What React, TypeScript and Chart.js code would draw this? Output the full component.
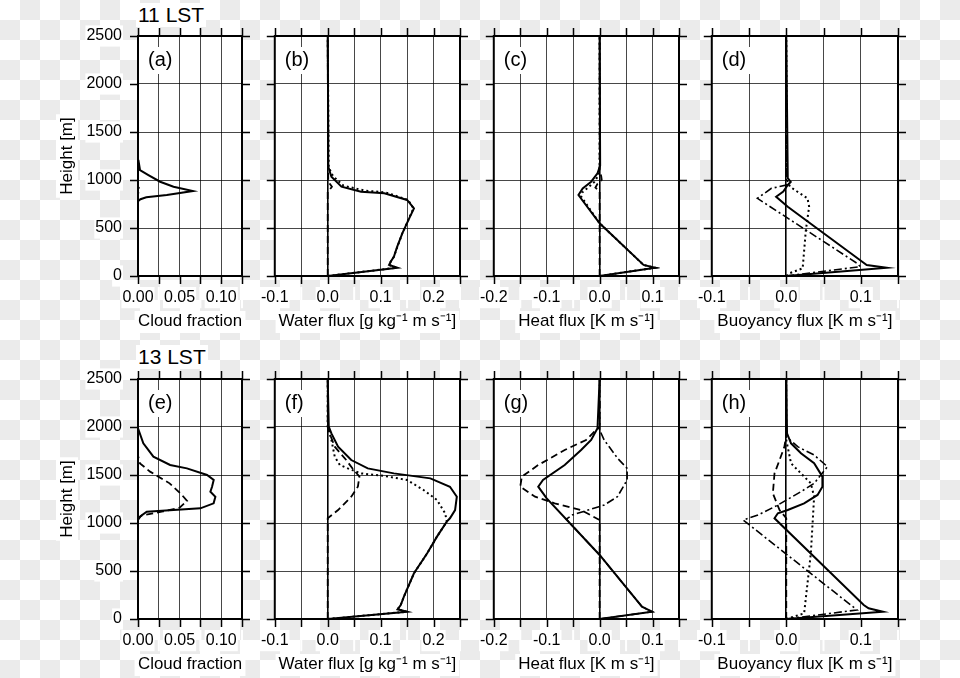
import React, { useEffect, useRef } from 'react';
import { Chart, registerables } from 'chart.js';
Chart.register(...registerables);

const FONT = '"Liberation Sans", Arial, Helvetica, sans-serif';

// ---- Profile data: heights (m) and values ----
// (a) 11 LST cloud fraction
const aSolidH = [0, 780, 800, 820, 844, 885, 930, 982, 1052, 1104, 1200, 1250, 2500];
const aSolidX = [0, 0, 0.003, 0.01, 0.0346, 0.066, 0.0427, 0.0266, 0.0125, 0.0024, 0.0006, 0, 0];
const aDashH = [0, 860, 885, 905, 930, 2500];
const aDashX = [0, 0, 0.002, 0.002, 0, 0];
// (b) 11 LST water flux
const bSolidH = [0, 86, 115, 149, 201, 300, 445, 600, 705, 792, 861, 878, 930, 1034, 1122, 1500, 2500];
const bSolidX = [0, 0.132, 0.116, 0.119, 0.125, 0.131, 0.141, 0.154, 0.163, 0.15, 0.107, 0.063, 0.026, 0.007, 0.002, 0.001, 0];
const bDotH = [0, 86, 115, 149, 201, 445, 705, 792, 870, 890, 940, 1040, 1130, 2500];
const bDotX = [0, 0.13, 0.116, 0.119, 0.125, 0.141, 0.162, 0.152, 0.11, 0.07, 0.03, 0.01, 0.002, 0];
const bDashH = [0, 880, 900, 930, 960, 1000, 2500];
const bDashX = [0, 0, 0.004, 0.008, 0.004, 0.001, 0];
// (c) 11 LST heat flux
const cSolidH = [0, 86, 115, 549, 844, 913, 982, 1069, 1150, 2500];
const cSolidX = [0, 0.105, 0.083, 0, -0.04, -0.032, -0.016, -0.004, 0.001, 0];
const cDotH = [0, 86, 115, 549, 830, 870, 920, 980, 1050, 1150, 2500];
const cDotX = [0, 0.105, 0.083, 0, -0.035, -0.033, -0.022, -0.01, -0.002, 0, 0];
const cDashH = [0, 880, 920, 960, 1000, 1040, 1100, 2500];
const cDashX = [0, 0, -0.008, -0.004, 0.004, 0.003, 0, 0];
// (d) 11 LST buoyancy flux
const dSolidH = [0, 86, 115, 149, 722, 826, 880, 948, 980, 1020, 2500];
const dSolidX = [0, 0.135, 0.108, 0.102, 0.002, -0.0136, -0.004, 0.002, 0.006, 0.002, 0];
const dDashDotH = [0, 97, 132, 809, 913, 948, 2500];
const dDashDotX = [0, 0.0995, 0.095, -0.0388, -0.02, 0, 0];
const dDotH = [0, 30, 80, 479, 722, 809, 878, 930, 1000, 2500];
const dDotX = [0, 0.005, 0.022, 0.0263, 0.0307, 0.0285, 0.015, 0.005, 0.001, 0];
// (e) 13 LST cloud fraction
const eSolidH = [0, 1031, 1070, 1118, 1135, 1153, 1205, 1274, 1326, 1378, 1448, 1500, 1569, 1604, 1691, 1830, 1986, 2500];
const eSolidX = [0, 0, 0.003, 0.0105, 0.0427, 0.0749, 0.0909, 0.093, 0.087, 0.089, 0.091, 0.083, 0.0588, 0.0386, 0.0185, 0.0064, 0, 0];
const eDashH = [0, 1050, 1080, 1120, 1160, 1230, 1300, 1413, 1535, 1621, 1700, 2500];
const eDashX = [0, 0, 0.005, 0.03, 0.05, 0.059, 0.052, 0.038, 0.0145, 0.0024, 0, 0];
// (f) 13 LST water flux
const fSolidH = [0, 76, 101, 146, 233, 476, 684, 858, 1014, 1049, 1135, 1274, 1378, 1465, 1517, 1569, 1656, 1795, 1934, 2004, 2500];
const fSolidX = [0, 0.15, 0.132, 0.138, 0.144, 0.163, 0.188, 0.2065, 0.225, 0.231, 0.2407, 0.244, 0.231, 0.194, 0.125, 0.0757, 0.0445, 0.0196, 0.007, 0.002, 0];
const fDotH = [0, 76, 101, 146, 233, 476, 684, 858, 1014, 1101, 1240, 1344, 1448, 1490, 1517, 1569, 1604, 1691, 1865, 2004, 2500];
const fDotX = [0, 0.15, 0.132, 0.138, 0.144, 0.163, 0.188, 0.2065, 0.225, 0.222, 0.2065, 0.181, 0.15, 0.107, 0.063, 0.038, 0.023, 0.0133, 0.007, 0, 0];
const fDashH = [0, 1049, 1135, 1274, 1378, 1483, 1560, 1656, 1795, 1900, 2004, 2500];
const fDashX = [0, 0, 0.0196, 0.0445, 0.057, 0.06, 0.048, 0.035, 0.0133, 0.006, 0, 0];
// (g) 13 LST heat flux
const gSolidH = [0, 76, 128, 667, 1257, 1378, 1448, 1604, 1760, 1865, 1986, 2500];
const gSolidX = [0, 0.099, 0.08, 0, -0.1, -0.116, -0.107, -0.066, -0.035, -0.016, -0.004, 0];
const gDashH = [0, 1031, 1135, 1205, 1274, 1378, 1483, 1604, 1760, 1865, 1951, 2000, 2500];
const gDashX = [0, 0, -0.035, -0.085, -0.122, -0.15, -0.147, -0.116, -0.066, -0.0256, -0.01, 0, 0];
const gDashDotH = [0, 76, 128, 667, 1040, 1083, 1135, 1187, 1274, 1448, 1569, 1674, 1865, 1969, 2500];
const gDashDotX = [0, 0.099, 0.08, 0, -0.063, -0.052, -0.022, 0.0086, 0.0336, 0.052, 0.052, 0.034, 0.0086, 0, 0];
// (h) 13 LST buoyancy flux
const hSolidH = [0, 76, 111, 146, 1049, 1101, 1135, 1205, 1292, 1378, 1483, 1622, 1726, 1830, 1934, 2500];
const hSolidX = [0, 0.1296, 0.1105, 0.104, -0.0158, -0.0113, 0.002, 0.024, 0.042, 0.0485, 0.0485, 0.0374, 0.0197, 0.0064, 0.001, 0];
const hDashDotH = [0, 94, 1031, 1083, 1187, 1326, 1413, 1587, 1708, 1795, 1900, 2500];
const hDashDotX = [0, 0.095, -0.0578, -0.038, -0.0113, 0.0197, 0.0374, 0.0553, 0.0374, 0.0153, 0, 0];
const hDotH = [0, 59, 684, 1274, 1413, 1517, 1622, 1865, 2500];
const hDotX = [0, 0.024, 0.033, 0.0374, 0.033, 0.0197, 0.0064, 0, 0];
const hDashH = [0, 1050, 1135, 1309, 1517, 1656, 1795, 1917, 2500];
const hDashX = [0, 0, -0.009, -0.018, -0.0158, -0.009, -0.0025, 0, 0];

// ---- axis settings ----
const rowTitles = ['11 LST', '13 LST'];
const heightTicks = { min: 0, max: 2500, step: 500 };
const cloudAxis = { min: 0, max: 0.125, step: 0.025, every: 0.05, digits: 2, title: 'Cloud fraction' };
const waterAxis = { min: -0.1, max: 0.25, step: 0.05, every: 0.1, digits: 1, title: 'Water flux [g kg\u207B\u00B9 m s\u207B\u00B9]' };
const heatAxis = { min: -0.2, max: 0.15, step: 0.05, every: 0.1, digits: 1, title: 'Heat flux [K m s\u207B\u00B9]' };
const buoyAxis = { min: -0.1, max: 0.15, step: 0.05, every: 0.1, digits: 1, title: 'Buoyancy flux [K m s\u207B\u00B9]' };

type Style = 'solid' | 'dash' | 'dot' | 'dashdot';
type S = { h: number[]; v: number[]; style: Style };

const panels = [
  { label: '(a)', row: 0, left: 138, width: 104, axis: cloudAxis, ylab: true, series: [{ h: aDashH, v: aDashX, style: 'dash' }, { h: aSolidH, v: aSolidX, style: 'solid' }] },
  { label: '(b)', row: 0, left: 273, width: 187, axis: waterAxis, ylab: false, series: [{ h: bDashH, v: bDashX, style: 'dash' }, { h: bDotH, v: bDotX, style: 'dot' }, { h: bSolidH, v: bSolidX, style: 'solid' }] },
  { label: '(c)', row: 0, left: 492, width: 187, axis: heatAxis, ylab: false, series: [{ h: cDashH, v: cDashX, style: 'dash' }, { h: cDotH, v: cDotX, style: 'dot' }, { h: cSolidH, v: cSolidX, style: 'solid' }] },
  { label: '(d)', row: 0, left: 710, width: 188, axis: buoyAxis, ylab: false, series: [{ h: dDotH, v: dDotX, style: 'dot' }, { h: dDashDotH, v: dDashDotX, style: 'dashdot' }, { h: dSolidH, v: dSolidX, style: 'solid' }] },
  { label: '(e)', row: 1, left: 138, width: 104, axis: cloudAxis, ylab: true, series: [{ h: eDashH, v: eDashX, style: 'dash' }, { h: eSolidH, v: eSolidX, style: 'solid' }] },
  { label: '(f)', row: 1, left: 273, width: 187, axis: waterAxis, ylab: false, series: [{ h: fDashH, v: fDashX, style: 'dash' }, { h: fDotH, v: fDotX, style: 'dot' }, { h: fSolidH, v: fSolidX, style: 'solid' }] },
  { label: '(g)', row: 1, left: 492, width: 187, axis: heatAxis, ylab: false, series: [{ h: gDashH, v: gDashX, style: 'dash' }, { h: gDashDotH, v: gDashDotX, style: 'dashdot' }, { h: gSolidH, v: gSolidX, style: 'solid' }] },
  { label: '(h)', row: 1, left: 710, width: 188, axis: buoyAxis, ylab: false, series: [{ h: hDashH, v: hDashX, style: 'dash' }, { h: hDotH, v: hDotX, style: 'dot' }, { h: hDashDotH, v: hDashDotX, style: 'dashdot' }, { h: hSolidH, v: hSolidX, style: 'solid' }] },
];

const rowTop = [36, 379];
const PLOT_H = 240;
const MT = 30, MR = 14, MB = 60;

const styleMap: Record<Style, { dash: number[]; w: number }> = {
  solid: { dash: [], w: 2 },
  dash: { dash: [7, 4], w: 1.8 },
  dot: { dash: [2, 3], w: 2 },
  dashdot: { dash: [8, 3, 2, 3], w: 1.6 },
};

function makeFramePlugin(label: string, ylab: boolean) {
  return {
    id: 'frame',
    beforeDraw(chart: any) {
      const { ctx, chartArea: a } = chart;
      ctx.save();
      ctx.fillStyle = '#fff';
      ctx.fillRect(a.left, a.top, a.right - a.left, a.bottom - a.top);
      const xs = chart.scales.x;
      ctx.font = `17px ${FONT}`;
      const t = xs.options.title.text;
      const w = ctx.measureText(t).width;
      const cx = (xs.left + xs.right) / 2;
      const cy = xs.bottom - 14;
      ctx.fillRect(cx - w / 2 - 3, cy - 11, w + 6, 22);
      if (ylab) {
        const ys = chart.scales.y;
        const w2 = ctx.measureText('Height [m]').width;
        const cx2 = ys.left + 19;
        const cy2 = (ys.top + ys.bottom) / 2;
        ctx.fillRect(cx2 - 11, cy2 - w2 / 2 - 3, 22, w2 + 6);
      }
      ctx.restore();
    },
    afterDraw(chart: any) {
      const { ctx, chartArea: a } = chart;
      const xs = chart.scales.x;
      const ys = chart.scales.y;
      ctx.save();
      ctx.strokeStyle = '#000';
      ctx.lineWidth = 1.5;
      ctx.beginPath();
      xs.ticks.forEach((t: any) => {
        const px = Math.round(xs.getPixelForValue(t.value)) + 0.5;
        ctx.moveTo(px, a.bottom);
        ctx.lineTo(px, a.bottom + 8);
        ctx.moveTo(px, a.top);
        ctx.lineTo(px, a.top - 8);
      });
      ys.ticks.forEach((t: any) => {
        const py = Math.round(ys.getPixelForValue(t.value)) + 0.5;
        ctx.moveTo(a.left, py);
        ctx.lineTo(a.left - 8, py);
        ctx.moveTo(a.right, py);
        ctx.lineTo(a.right + 8, py);
      });
      ctx.stroke();
      ctx.lineWidth = 2;
      ctx.strokeRect(a.left, a.top, a.right - a.left, a.bottom - a.top);
      ctx.fillStyle = '#fff';
      ctx.font = `20px ${FONT}`;
      const lw = ctx.measureText(label).width;
      ctx.fillRect(a.left + 6, a.top + 11, lw + 8, 27);
      ctx.fillStyle = '#000';
      ctx.textBaseline = 'middle';
      ctx.textAlign = 'left';
      ctx.fillText(label, a.left + 10, a.top + 24);
      ctx.restore();
    },
  };
}

function Panel({ p }: { p: any }) {
  const ref = useRef<HTMLCanvasElement>(null);
  const mL = p.ylab ? 90 : 24;
  const W = mL + p.width + MR;
  const H = MT + PLOT_H + MB;
  const left = p.left - mL;
  const top = rowTop[p.row] - MT;
  useEffect(() => {
    if (!ref.current) return;
    const ax = p.axis;
    const gridColor = (c: any) => (c.tick && Math.abs(c.tick.value) < 1e-9 ? '#000' : 'rgba(0,0,0,0.72)');
    const gridWidth = (c: any) => (c.tick && Math.abs(c.tick.value) < 1e-9 ? 1.6 : 1);
    const chart = new Chart(ref.current, {
      type: 'scatter',
      data: {
        datasets: p.series.map((s: S) => ({
          data: s.h.map((h, i) => ({ x: s.v[i], y: h })),
          showLine: true,
          borderColor: '#000',
          backgroundColor: '#000',
          borderWidth: styleMap[s.style].w,
          borderDash: styleMap[s.style].dash,
          pointRadius: 0,
          fill: false,
          tension: 0,
        })),
      },
      options: {
        responsive: false,
        animation: false,
        events: [],
        layout: { padding: { top: MT, right: MR, left: 0, bottom: 0 } },
        plugins: { legend: { display: false }, tooltip: { enabled: false } },
        scales: {
          x: {
            type: 'linear',
            position: 'bottom',
            min: ax.min,
            max: ax.max,
            afterFit: (s: any) => { s.height = MB; },
            ticks: {
              stepSize: ax.step,
              autoSkip: false,
              maxRotation: 0,
              minRotation: 0,
              padding: 12,
              color: '#000',
              font: { family: FONT, size: 16 },
              showLabelBackdrop: true,
              backdropColor: '#fff',
              backdropPadding: 1,
              callback: (v: any) => {
                const k = v / ax.every;
                if (Math.abs(k - Math.round(k)) < 1e-6) return (Math.round(k) * ax.every).toFixed(ax.digits);
                return '';
              },
            },
            grid: { drawTicks: false, color: gridColor, lineWidth: gridWidth },
            border: { display: false },
            title: { display: true, text: ax.title, color: '#000', font: { family: FONT, size: 17 }, padding: { top: 0, bottom: 4 } },
          },
          y: {
            type: 'linear',
            min: heightTicks.min,
            max: heightTicks.max,
            afterFit: (s: any) => { s.width = mL; },
            ticks: {
              stepSize: heightTicks.step,
              display: p.ylab,
              autoSkip: false,
              padding: 16,
              color: '#000',
              font: { family: FONT, size: 16 },
              showLabelBackdrop: true,
              backdropColor: '#fff',
              backdropPadding: 1,
              callback: (v: any) => String(Math.round(v)),
            },
            grid: { drawTicks: false, color: 'rgba(0,0,0,0.72)', lineWidth: 1 },
            border: { display: false },
            title: { display: p.ylab, text: 'Height [m]', color: '#000', font: { family: FONT, size: 17 }, padding: { top: 9, bottom: 0 } },
          },
        },
      } as any,
      plugins: [makeFramePlugin(p.label, p.ylab)],
    });
    return () => chart.destroy();
  }, []);
  return (
    <canvas
      ref={ref}
      width={W}
      height={H}
      style={{ position: 'absolute', left, top, width: W, height: H }}
    />
  );
}

export default function App() {
  return (
    <div
      style={{
        position: 'fixed',
        left: 0,
        top: 0,
        width: 960,
        height: 678,
        overflow: 'hidden',
        backgroundColor: '#fff',
        backgroundImage: 'conic-gradient(#ebebeb 0 25%, #ffffff 0 50%, #ebebeb 0 75%, #ffffff 0)',
        backgroundSize: '40px 40px',
        backgroundPosition: '0 0',
      }}
    >
      {panels.map((p) => (
        <Panel key={p.label} p={p} />
      ))}
      {rowTitles.map((t, i) => (
        <div
          key={t}
          style={{
            position: 'absolute',
            left: 136,
            top: i === 0 ? 3 : 345,
            font: `21px ${FONT}`,
            lineHeight: '24px',
            background: '#fff',
            padding: '0 2px',
            color: '#000',
          }}
        >
          {t}
        </div>
      ))}
    </div>
  );
}
